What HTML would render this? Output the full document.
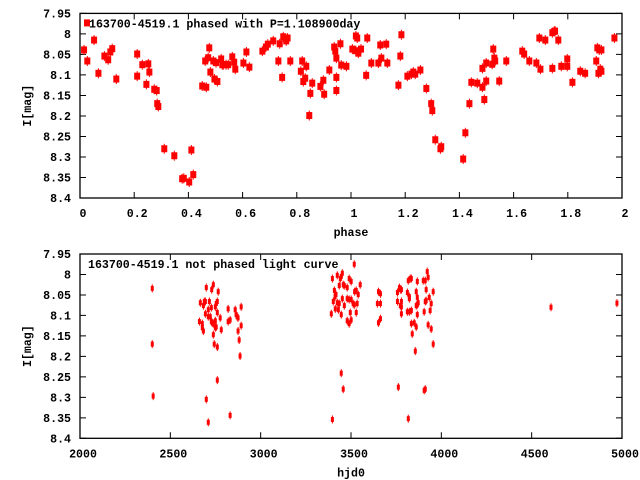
<!DOCTYPE html>
<html><head><meta charset="utf-8"><style>
html,body{margin:0;padding:0;background:#fff;}
svg{display:block;}
text{font-family:"Liberation Mono","DejaVu Sans Mono",monospace;font-weight:bold;font-size:11.6px;fill:#000;}
</style></head><body>
<svg id="chart" width="640" height="480" xmlns="http://www.w3.org/2000/svg">
<rect width="640" height="480" fill="#fff"/>
<g id="top"></g>
<g id="bot"></g>
</svg>
<script>
// phased light curve data
const phaseVals=[0.015,0.027,0.052,0.068,0.090,0.104,0.112,0.119,0.134,0.211,0.211,0.230,0.245,0.252,0.256,0.274,0.283,0.285,0.289,0.311,0.348,0.377,0.383,0.403,0.411,0.418,0.451,0.466,0.462,0.473,0.477,0.481,0.492,0.496,0.502,0.507,0.521,0.525,0.529,0.539,0.547,0.562,0.569,0.573,0.603,0.614,0.625,0.673,0.686,0.693,0.713,0.732,0.737,0.746,0.750,0.761,0.766,0.776,0.815,0.820,0.824,0.831,0.835,0.850,0.846,0.857,0.887,0.898,0.901,0.920,0.938,0.942,0.946,0.946,0.946,0.961,0.964,0.983,1.005,1.018,1.023,1.018,1.027,1.037,1.056,1.060,1.075,1.101,1.108,1.112,1.130,1.134,1.175,1.182,1.186,1.208,1.223,1.230,1.237,1.256,1.278,1.296,1.300,1.311,1.330,1.333,1.414,1.422,1.437,1.444,1.466,1.485,1.485,1.492,1.499,1.499,1.521,1.525,1.529,1.532,1.547,1.573,1.632,1.639,1.658,1.684,1.695,1.699,1.717,1.743,1.750,1.753,1.765,1.743,1.776,1.798,1.798,1.817,1.846,1.864,1.905,1.909,1.916,1.924,1.913,1.920,1.924,1.972];
const phaseMags=[8.039,8.066,8.015,8.096,8.054,8.063,8.044,8.036,8.110,8.049,8.103,8.075,8.123,8.073,8.093,8.135,8.138,8.170,8.177,8.280,8.297,8.353,8.352,8.361,8.283,8.343,8.127,8.130,8.066,8.058,8.034,8.093,8.066,8.110,8.070,8.116,8.061,8.075,8.075,8.075,8.075,8.056,8.069,8.086,8.071,8.044,8.081,8.042,8.032,8.025,8.017,8.066,8.024,8.106,8.007,8.017,8.010,8.066,8.091,8.066,8.116,8.108,8.079,8.145,8.199,8.120,8.128,8.113,8.147,8.088,8.032,8.042,8.059,8.106,8.138,8.024,8.076,8.079,8.037,8.005,8.010,8.041,8.047,8.037,8.101,8.010,8.071,8.071,8.027,8.059,8.025,8.071,8.125,8.054,8.002,8.103,8.098,8.093,8.098,8.088,8.133,8.170,8.187,8.258,8.280,8.275,8.305,8.241,8.170,8.118,8.120,8.084,8.130,8.160,8.071,8.115,8.074,8.037,8.059,8.066,8.115,8.066,8.042,8.049,8.066,8.071,8.010,8.086,8.015,7.997,7.994,7.993,8.015,8.084,8.079,8.061,8.079,8.118,8.091,8.096,8.066,8.034,8.039,8.039,8.096,8.086,8.091,8.010];
// unphased data
const hjdVals=[2400,2400,2405,2699,2738,2729,2765,2666,2683,2688,2694,2716,2727,2710,2749,2754,2760,2694,2710,2721,2760,2776,2661,2677,2677,2683,2727,2732,2738,2749,2754,2749,2782,2738,2743,2760,2760,2699,2710,2831,2820,2859,2892,2864,2870,2875,2831,2820,2892,2875,2881,2886,
3518,3397,3424,3452,3441,3446,3490,3501,3435,3457,3463,3479,3551,3408,3520,3529,3540,3417,3412,3452,3479,3490,3501,3402,3424,3435,3463,3512,3518,3534,3413,3430,3391,3446,3496,3529,3479,3490,3501,3652,3663,3646,3663,3663,3652,3446,3457,3397,
3922,3927,3900,3911,3867,3817,3828,3834,3768,3773,3779,3757,3812,3861,3916,3955,3823,3823,3867,3933,3757,3779,3773,3779,3861,3872,3867,3911,3916,3944,3812,3823,3834,3779,3867,3905,3938,3834,3850,3861,3927,3944,3839,3955,3856,3762,3911,3905,3817,4607,4972];
const hjdMags=[8.034,8.170,8.297,8.032,8.025,8.037,8.042,8.069,8.076,8.066,8.066,8.066,8.081,8.086,8.079,8.071,8.066,8.096,8.103,8.103,8.093,8.106,8.115,8.120,8.130,8.138,8.115,8.118,8.120,8.113,8.128,8.130,8.135,8.147,8.170,8.177,8.258,8.305,8.361,8.344,8.084,8.086,8.079,8.098,8.103,8.106,8.111,8.115,8.125,8.138,8.160,8.199,
7.975,8.010,8.002,7.997,8.010,8.005,8.010,8.017,8.027,8.025,8.027,8.032,8.025,8.039,8.042,8.039,8.049,8.049,8.054,8.059,8.059,8.061,8.061,8.066,8.069,8.071,8.076,8.071,8.074,8.071,8.084,8.086,8.096,8.098,8.093,8.093,8.113,8.120,8.111,8.042,8.047,8.071,8.071,8.108,8.118,8.241,8.280,8.354,
7.993,8.007,8.015,8.015,8.017,8.015,8.010,8.010,8.032,8.037,8.037,8.044,8.044,8.042,8.037,8.042,8.054,8.059,8.056,8.056,8.066,8.066,8.076,8.079,8.076,8.069,8.074,8.066,8.064,8.071,8.091,8.091,8.088,8.096,8.098,8.091,8.088,8.120,8.118,8.128,8.123,8.133,8.145,8.170,8.187,8.275,8.280,8.283,8.352,8.080,8.070];
const magTicks=[7.95,8,8.05,8.1,8.15,8.2,8.25,8.3,8.35,8.4];
const magTickLabels=["7.95","8","8.05","8.1","8.15","8.2","8.25","8.3","8.35","8.4"];
const phaseTicks=[0,0.2,0.4,0.6,0.8,1,1.2,1.4,1.6,1.8,2];
const phaseTickLabels=["0","0.2","0.4","0.6","0.8","1","1.2","1.4","1.6","1.8","2"];
const hjdTicks=[2000,2500,3000,3500,4000,4500,5000];
const hjdTickLabels=["2000","2500","3000","3500","4000","4500","5000"];

const NS="http://www.w3.org/2000/svg";
function mk(parent,tag,attrs){const e=document.createElementNS(NS,tag);for(const k in attrs)e.setAttribute(k,attrs[k]);parent.appendChild(e);return e;}

function panel(g,cfg){
  const L=80,R=622,T=cfg.top,B=cfg.bottom;
  const sx=v=>L+(v-cfg.xmin)/(cfg.xmax-cfg.xmin)*(R-L);
  const sy=v=>T+(v-7.95)/(8.4-7.95)*(B-T);
  magTicks.forEach((t,i)=>{
    const y=sy(t);
    const tk=mk(g,'path',{d:`M${L},${y}h6M${R},${y}h-6`,stroke:'#000','stroke-width':1});
    
    
    const tx=mk(g,'text',{x:71,y:y+4,'text-anchor':'end'});
    tx.textContent=magTickLabels[i];
    
    
  });
  cfg.xticks.forEach((t,i)=>{
    const x=sx(t);
    const tk=mk(g,'path',{d:`M${x},${B}v-6M${x},${T}v6`,stroke:'#000','stroke-width':1});
    
    
    const tx=mk(g,'text',{x:x+3,y:B+19,'text-anchor':'middle'});
    tx.textContent=cfg.xlabels[i];
    
    
  });
  cfg.xs.forEach((v,i)=>{
    const x=sx(v),y=sy(cfg.ys[i]);
    const p=mk(g,'g',{});
    
    
    if(cfg.big){
      mk(p,'line',{x1:x,x2:x,y1:y-5,y2:y+5,stroke:'#f00','stroke-width':1});
      mk(p,'rect',{x:x-3,y:y-3.5,width:6,height:7,fill:'#f00'});
    }else{
      mk(p,'line',{x1:x,x2:x,y1:y-4,y2:y+4,stroke:'#f00','stroke-width':1});
      mk(p,'rect',{x:x-1.5,y:y-2.5,width:3,height:5,fill:'#f00'});
    }
  });
  const fr=mk(g,'rect',{x:L,y:T,width:R-L,height:B-T,fill:'none',stroke:'#000','stroke-width':1.3});
  
  
  if(cfg.big){
    const lm=mk(g,'rect',{x:84,y:T+6,width:6,height:7,fill:'#f00'});
    
    
  }
  const lt=mk(g,'text',{x:cfg.big?89:88,y:T+14});
  lt.textContent=cfg.title;
  
  
  const yt=mk(g,'text',{x:0,y:0,'text-anchor':'middle',transform:`translate(31,${(T+B)/2}) rotate(-90)`});
  yt.textContent='I[mag]';
  
  
  const xt=mk(g,'text',{x:(L+R)/2,y:B+38,'text-anchor':'middle'});
  xt.textContent=cfg.xtitle;
  
  
}
panel(document.getElementById('top'),{top:13.4,bottom:198,xmin:0,xmax:2,xticks:phaseTicks,xlabels:phaseTickLabels,xs:phaseVals,ys:phaseMags,big:true,title:'163700-4519.1 phased with P=1.108900day',xtitle:'phase'});
panel(document.getElementById('bot'),{top:254,bottom:438.3,xmin:2000,xmax:5000,xticks:hjdTicks,xlabels:hjdTickLabels,xs:hjdVals,ys:hjdMags,big:false,title:'163700-4519.1 not phased light curve',xtitle:'hjd0'});
</script>
</body></html>
